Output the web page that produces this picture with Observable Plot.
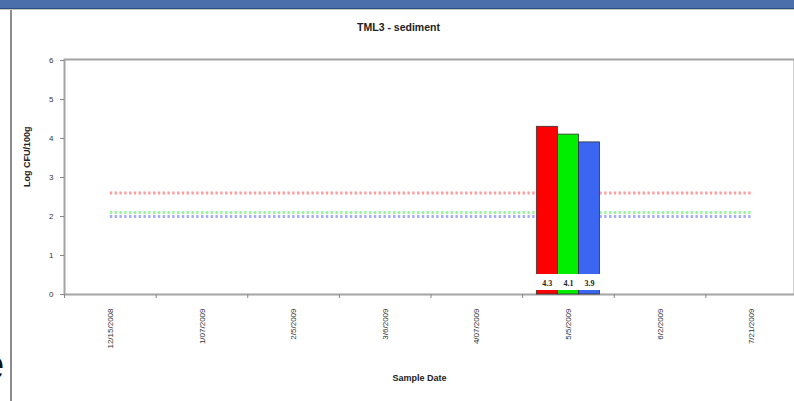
<!DOCTYPE html>
<html>
<head>
<meta charset="utf-8">
<script src="https://cdn.jsdelivr.net/npm/d3@7"></script>
<script src="https://cdn.jsdelivr.net/npm/@observablehq/plot@0.6"></script>
<style>
  html, body { margin: 0; padding: 0; background: #fff; }
  body { width: 794px; height: 401px; position: relative; overflow: hidden; font-family: "Liberation Sans", Arial, sans-serif; }
  #band { position: absolute; left: 0; top: 0; width: 794px; height: 8px; background: #4a6fab; border-bottom: 1px solid #2e4c7e; box-shadow: 0 1px 0 #c8c8c8; }
  #vline { position: absolute; left: 10px; top: 10px; width: 2px; height: 391px; background: #8c8c8c; }
  #slideText { position: absolute; left: -19px; top: 344px; font-size: 42px; color: #111; font-family: "Liberation Sans", Arial, sans-serif; line-height: 1; }
  #chart { position: absolute; left: 0; top: 0; }
</style>
</head>
<body>
<div id="band"></div>
<div id="vline"></div>
<div id="slideText">e</div>
<div id="chart"></div>
<script>
const title = "TML3 - sediment";
const xTitle = "Sample Date";
const yTitle = "Log CFU/100g";
const dates = ["12/15/2008", "1/07/2009", "2/5/2009", "3/6/2009", "4/07/2009", "5/5/2009", "6/2/2009", "7/21/2009"];
const seriesNames = ["A", "B", "C"];
const seriesColors = ["#ff0000", "#00ee00", "#3a66f2"];
const lineColors = ["#ff9c9c", "#9cf59c", "#a8acff"];
const barDate = "5/5/2009";
const barValues = [4.3, 4.1, 3.9];
const thresholds = [2.6, 2.1, 2.0];
const yTicks = [0, 1, 2, 3, 4, 5, 6];

const gapWidth = 1.35;
const barW = 1 / (seriesNames.length + gapWidth);
const catIndex = dates.indexOf(barDate);

const bars = barValues.map((v, s) => ({
  series: seriesNames[s],
  color: seriesColors[s],
  value: v,
  x1: catIndex + 0.5 + (s - seriesNames.length / 2) * barW,
  x2: catIndex + 0.5 + (s - seriesNames.length / 2 + 1) * barW
}));
const refs = thresholds.map((t, s) => ({ y: t, color: lineColors[s] }));
const centers = dates.map((d, i) => i + 0.5);
const bounds = d3.range(dates.length + 1);

const font = "'Liberation Sans', Arial, sans-serif";

const plot = Plot.plot({
  width: 794,
  height: 401,
  marginTop: 59,
  marginBottom: 107,
  marginLeft: 64,
  marginRight: 0,
  style: { fontFamily: font, background: "transparent", overflow: "visible" },
  x: { type: "linear", domain: [0, dates.length], range: [64, 797] },
  y: { domain: [0, 6], range: [294, 60] },
  marks: [
    Plot.frame({ stroke: "#a3a3a3", strokeWidth: 2 }),
    Plot.ruleY(refs, { y: "y", x1: 0.5, x2: dates.length - 0.5, stroke: "color", strokeWidth: 3, strokeDasharray: "2.4,2.4" }),
    Plot.rectY(bars, { x1: "x1", x2: "x2", y1: 0, y2: "value", fill: "color", stroke: "#333", strokeWidth: 0.8 }),
    Plot.rectY(bars, { x1: "x1", x2: "x2", y1: 0, y2: 0, fill: "white", insetTop: -20, insetBottom: 4, insetLeft: -1, insetRight: -1 }),
    Plot.text(bars, { x: d => (d.x1 + d.x2) / 2, y: 0, dy: -11, text: d => d.value.toFixed(1), fontWeight: "bold", fontSize: 8, fill: "#222", fontFamily: "'Liberation Serif', 'Times New Roman', serif" }),
    Plot.axisY({ ticks: yTicks, tickSize: 4, tickPadding: 7, stroke: "#888", fill: "#333", fontSize: 8, label: null, tickFormat: d => d }),
    Plot.axisX({ ticks: bounds, tickSize: 4, tickFormat: () => "", stroke: "#888", label: null }),
    Plot.axisX({ ticks: centers, tickSize: 0, tickPadding: 14, tickRotate: -90, tickFormat: v => dates[Math.floor(v)], fill: "#333", fontSize: 8, label: null }),
    Plot.text([title], { frameAnchor: "top", dx: -31, dy: -36, text: d => d, fontWeight: "bold", fontSize: 10.5, fill: "#222" }),
    Plot.text([xTitle], { frameAnchor: "bottom", dx: -10, dy: 86, text: d => d, fontWeight: "bold", fontSize: 9, fill: "#222" }),
    Plot.text([yTitle], { frameAnchor: "left", dx: -37, dy: 10, rotate: -90, text: d => d, fontWeight: "bold", fontSize: 9, fill: "#222" })
  ]
});
document.getElementById("chart").appendChild(plot);
</script>
</body>
</html>
